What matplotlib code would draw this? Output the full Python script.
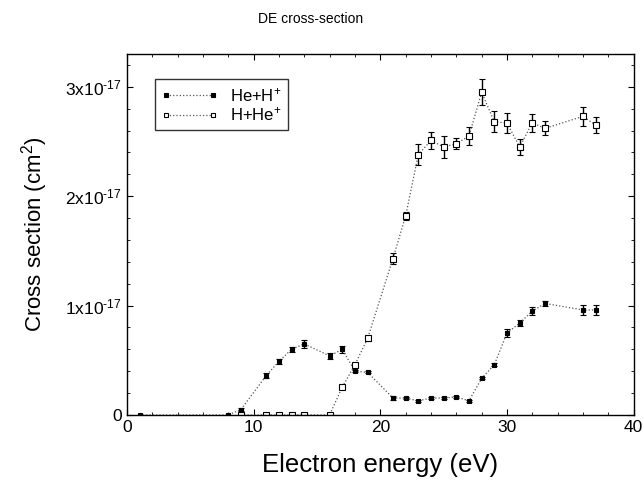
import matplotlib
matplotlib.use("Agg")
import matplotlib.pyplot as plt
from matplotlib.ticker import MultipleLocator, FixedLocator
from matplotlib.lines import Line2D

# He+H+ (filled squares), values in units of 1e-17 cm^2
x_heh = [1, 8, 9, 11, 12, 13, 14, 16, 17, 18, 19, 21, 22, 23, 24, 25, 26, 27, 28, 29, 30, 31, 32, 33, 36, 37]
y_heh = [0.0, 0.0, 0.05, 0.36, 0.49, 0.60, 0.65, 0.54, 0.60, 0.40, 0.39, 0.155, 0.155, 0.13, 0.155, 0.155, 0.165, 0.13, 0.335, 0.46, 0.75, 0.84, 0.95, 1.02, 0.96, 0.96]
e_heh = [0.0, 0.0, 0.01, 0.02, 0.02, 0.02, 0.04, 0.03, 0.03, 0.01, 0.01, 0.015, 0.01, 0.01, 0.01, 0.01, 0.01, 0.01, 0.01, 0.015, 0.04, 0.03, 0.04, 0.02, 0.05, 0.045]

# H+He+ (open squares)
x_hhe = [9, 11, 12, 13, 14, 16, 17, 18, 19, 21, 22, 23, 24, 25, 26, 27, 28, 29, 30, 31, 32, 33, 36, 37]
y_hhe = [0.0, 0.0, 0.0, 0.0, 0.0, 0.0, 0.255, 0.46, 0.70, 1.43, 1.82, 2.38, 2.51, 2.45, 2.48, 2.55, 2.95, 2.68, 2.67, 2.45, 2.67, 2.62, 2.73, 2.65]
e_hhe = [0.0, 0.0, 0.0, 0.0, 0.0, 0.0, 0.01, 0.01, 0.02, 0.05, 0.035, 0.095, 0.08, 0.1, 0.05, 0.08, 0.12, 0.095, 0.09, 0.075, 0.08, 0.065, 0.09, 0.07]

y_ticks = [0, 1, 2, 3]
y_ticklabels = ["0", "1x10$^{\\mathrm{‐17}}$", "2x10$^{\\mathrm{‐17}}$", "3x10$^{\\mathrm{‐17}}$"]

plt.rcParams['font.family'] = ['Liberation Sans', 'DejaVu Sans']
plt.rcParams['mathtext.fontset'] = 'custom'
plt.rcParams['mathtext.rm'] = 'Liberation Sans'
plt.rcParams['mathtext.it'] = 'Liberation Sans'

fig = plt.figure(figsize=(6.44, 5.0), dpi=100)
ax = fig.add_axes([0.197, 0.17, 0.787, 0.722])

line_col = '#555555'
ax.errorbar(x_heh, y_heh, yerr=e_heh, fmt='none', ecolor='black', elinewidth=1.0,
            capsize=2, capthick=0.8)
ax.plot(x_heh, y_heh, linestyle=':', color=line_col, lw=0.9, marker='s', ms=3.3,
        mfc='black', mec='black', mew=0.8)
ax.errorbar(x_hhe, y_hhe, yerr=e_hhe, fmt='none', ecolor='black', elinewidth=1.0,
            capsize=2, capthick=0.8)
ax.plot(x_hhe, y_hhe, linestyle=':', color=line_col, lw=0.9, marker='s', ms=3.8,
        mfc='white', mec='black', mew=0.8)

ax.set_xlim(0, 40)
ax.set_ylim(0, 3.3)
ax.xaxis.set_major_locator(MultipleLocator(10))
ax.xaxis.set_minor_locator(MultipleLocator(2))
ax.yaxis.set_major_locator(FixedLocator(y_ticks))
ax.set_yticklabels(y_ticklabels)
ax.yaxis.set_minor_locator(MultipleLocator(0.2))
ax.tick_params(which='both', direction='in', top=True, right=True, labelsize=12.5)
ax.tick_params(which='major', length=4, width=0.8)
ax.tick_params(which='minor', length=2.5, width=0.6)
for s in ax.spines.values():
    s.set_linewidth(1.0)

ax.set_xlabel('Electron energy (eV)', fontsize=18.5, labelpad=13)
ax.set_ylabel('Cross section (cm$^{2}$)', fontsize=16, labelpad=11)
fig.text(0.483, 0.962, 'DE cross-section', ha='center', va='center', fontsize=10)

handles = [
    Line2D([], [], linestyle=':', color=line_col, lw=0.9, marker='s', ms=3.3,
           mfc='black', mec='black', mew=0.8),
    Line2D([], [], linestyle=':', color=line_col, lw=0.9, marker='s', ms=3.3,
           mfc='white', mec='black', mew=0.8),
]
leg = ax.legend(handles, ['He+H$^{+}$', 'H+He$^{+}$'], loc='upper left',
                bbox_to_anchor=(0.055, 0.93), frameon=True, fancybox=False,
                edgecolor='black', fontsize=12, handlelength=3.4, borderpad=0.4,
                labelspacing=0.1, handletextpad=0.7, numpoints=2, borderaxespad=0)
leg.get_frame().set_linewidth(1.0)

fig.savefig('out.png', dpi=100)
